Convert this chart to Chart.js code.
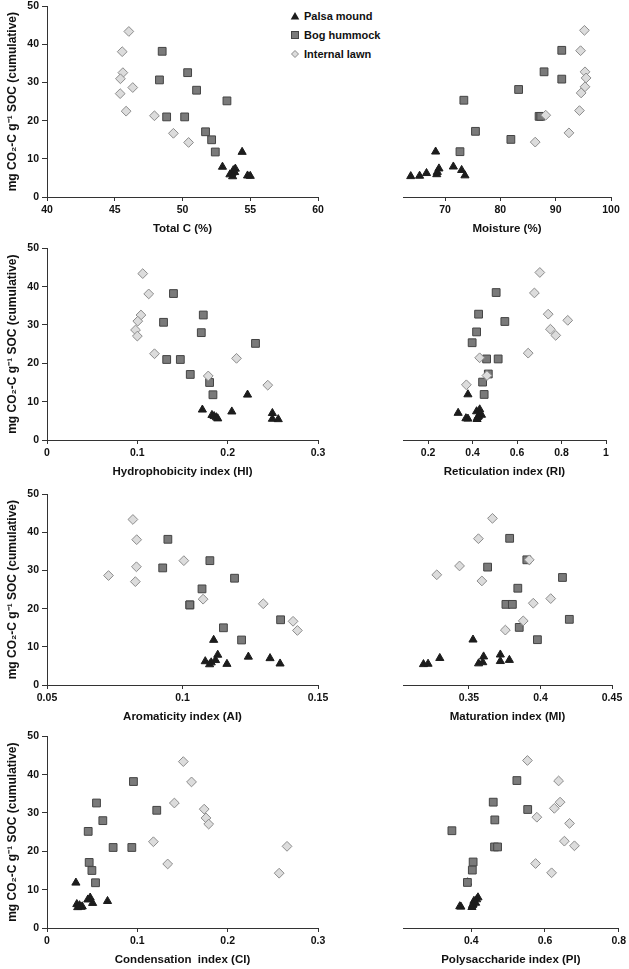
<!DOCTYPE html>
<html lang="en">
<head>
<meta charset="UTF-8">
<title>Cumulative CO2 vs soil properties</title>
<script src="https://cdn.jsdelivr.net/npm/chart.js"></script>
<style>
    body { margin: 0; background: #fff; font-family: 'Liberation Sans', Arial, sans-serif; }
    #wrap { position: relative; width: 629px; height: 969px; overflow: hidden; }
    #wrap canvas { position: absolute; }
    .leg { position: absolute; left: 290px; height: 14px; line-height: 14px; font-size: 11px; font-weight: bold; color: #111; white-space: nowrap; }
    .leg svg { position: absolute; left: 0; top: 2px; }
    .leg span { position: absolute; left: 14px; }
</style>
</head>
<body>
<div id="wrap">
    <div class="leg" style="top:9px"><svg width="10" height="10"><polygon points="5,1 9.3,8.6 0.7,8.6" fill="#1c1c1c"/></svg><span>Palsa mound</span></div>
    <div class="leg" style="top:28px"><svg width="10" height="10"><rect x="1.5" y="1.5" width="7" height="7" fill="#7a7a7a" stroke="#444"/></svg><span>Bog hummock</span></div>
    <div class="leg" style="top:47px"><svg width="10" height="10"><polygon points="5,1.5 8.5,5 5,8.5 1.5,5" fill="#dcdcdc" stroke="#8c8c8c"/></svg><span>Internal lawn</span></div>
</div>

<script>
// cumulative CO2 (mg CO2-C g-1 SOC), same samples in every panel
const palsaCO2 = [11.8, 7.9, 7.4, 7.0, 6.5, 6.2, 5.9, 5.6, 5.5, 5.4];
const bogCO2   = [38.2, 32.6, 30.7, 28.0, 25.2, 21.0, 21.0, 17.1, 15.0, 11.8];
const lawnCO2  = [43.4, 38.1, 32.6, 31.0, 28.7, 27.1, 22.5, 21.3, 16.7, 14.3];

const seriesNames = ['Palsa mound', 'Bog hummock', 'Internal lawn'];

// x values per panel, in the same order as the CO2 arrays
const totalCPalsa = [54.4, 52.95, 53.9, 53.75, 53.85, 53.65, 53.5, 54.8, 55.0, 53.7];
const totalCBog   = [48.5, 50.38, 48.3, 51.04, 53.28, 48.83, 50.16, 51.7, 52.15, 52.42];
const totalCLawn  = [46.04, 45.55, 45.6, 45.42, 46.33, 45.4, 45.84, 47.93, 49.33, 50.45];

const moisturePalsa = [68.3, 71.5, 68.9, 73.0, 68.6, 66.65, 68.5, 73.6, 65.4, 63.8];
const moistureBog   = [91.1, 87.9, 91.1, 83.3, 73.4, 87.0, 87.3, 75.5, 81.9, 72.7];
const moistureLawn  = [95.2, 94.5, 95.3, 95.5, 95.3, 94.6, 94.3, 88.2, 92.4, 86.3];

const hiPalsa = [0.222, 0.172, 0.2046, 0.2495, 0.1826, 0.185, 0.1875, 0.189, 0.2495, 0.256];
const hiBog   = [0.140, 0.173, 0.129, 0.1708, 0.2308, 0.1325, 0.1476, 0.1586, 0.180, 0.1837];
const hiLawn  = [0.106, 0.1126, 0.104, 0.1005, 0.098, 0.100, 0.119, 0.2098, 0.1785, 0.2444];

const riPalsa = [0.379, 0.432, 0.418, 0.335, 0.44, 0.427, 0.423, 0.37, 0.379, 0.42];
const riBog   = [0.506, 0.427, 0.545, 0.418, 0.398, 0.463, 0.515, 0.4707, 0.445, 0.452];
const riLawn  = [0.7024, 0.678, 0.740, 0.828, 0.75, 0.774, 0.65, 0.4317, 0.4646, 0.372];

const aiPalsa = [0.1115, 0.113, 0.1243, 0.1323, 0.1122, 0.1084, 0.1106, 0.136, 0.1164, 0.110];
const aiBog   = [0.0946, 0.1101, 0.0927, 0.1192, 0.1072, 0.1027, 0.1027, 0.1362, 0.1151, 0.1218];
const aiLawn  = [0.0817, 0.0831, 0.1005, 0.083, 0.0727, 0.0826, 0.1076, 0.1298, 0.1408, 0.1424];

const miPalsa = [0.3529, 0.372, 0.3603, 0.3297, 0.3783, 0.372, 0.3597, 0.3568, 0.3215, 0.3183];
const miBog   = [0.3785, 0.3905, 0.3631, 0.4154, 0.3842, 0.3759, 0.3804, 0.4202, 0.3852, 0.3979];
const miLawn  = [0.3665, 0.3567, 0.3922, 0.3435, 0.3276, 0.3591, 0.4072, 0.395, 0.388, 0.3755];

const ciPalsa = [0.032, 0.0478, 0.0452, 0.067, 0.0505, 0.033, 0.036, 0.039, 0.0375, 0.034];
const ciBog   = [0.0957, 0.0548, 0.1215, 0.0618, 0.0456, 0.0732, 0.0939, 0.0467, 0.0497, 0.0537];
const ciLawn  = [0.1509, 0.160, 0.141, 0.174, 0.176, 0.179, 0.1178, 0.2657, 0.1336, 0.257];

const piPalsa = [0.39, 0.4184, 0.4147, 0.4074, 0.412, 0.405, 0.4037, 0.369, 0.372, 0.402];
const piBog   = [0.5238, 0.4597, 0.5532, 0.464, 0.3476, 0.4633, 0.4715, 0.4052, 0.403, 0.3897];
const piLawn  = [0.5525, 0.637, 0.641, 0.6254, 0.578, 0.6667, 0.6527, 0.68, 0.5746, 0.618];

// tick labels
const co2Ticks      = [0, 10, 20, 30, 40, 50];
const totalCTicks   = [40, 45, 50, 55, 60];
const moistureTicks = [70, 80, 90, 100];
const hiTicks       = [0, 0.1, 0.2, 0.3];
const riTicks       = [0.2, 0.4, 0.6, 0.8, 1];
const aiTicks       = [0.05, 0.1, 0.15];
const miTicks       = [0.35, 0.4, 0.45];
const ciTicks       = [0, 0.1, 0.2, 0.3];
const piTicks       = [0.4, 0.6, 0.8];

const co2 = [palsaCO2, bogCO2, lawnCO2];
const fontFam = "'Liberation Sans', Arial, sans-serif";
const axisColor = '#333';

// plot box rows (top = 50, bottom = 0)
const rows = [
    { top: 5,   bottom: 197 },
    { top: 247, bottom: 440 },
    { top: 493, bottom: 685 },
    { top: 735, bottom: 928 }
];

const panels = [
    { title: 'Total C (%)', xs: [totalCPalsa, totalCBog, totalCLawn], ticks: totalCTicks, min: 40, max: 60, row: 0, col: 0, right: 318 },
    { title: 'Moisture (%)', xs: [moisturePalsa, moistureBog, moistureLawn], ticks: moistureTicks, min: 62.4, max: 100, row: 0, col: 1, right: 611 },
    { title: 'Hydrophobicity index (HI)', xs: [hiPalsa, hiBog, hiLawn], ticks: hiTicks, min: 0, max: 0.3, row: 1, col: 0, right: 318 },
    { title: 'Reticulation index (RI)', xs: [riPalsa, riBog, riLawn], ticks: riTicks, min: 0.087, max: 1, row: 1, col: 1, right: 606 },
    { title: 'Aromaticity index (AI)', xs: [aiPalsa, aiBog, aiLawn], ticks: aiTicks, min: 0.05, max: 0.15, row: 2, col: 0, right: 318 },
    { title: 'Maturation index (MI)', xs: [miPalsa, miBog, miLawn], ticks: miTicks, min: 0.304, max: 0.45, row: 2, col: 1, right: 612 },
    { title: 'Condensation  index (CI)', xs: [ciPalsa, ciBog, ciLawn], ticks: ciTicks, min: 0, max: 0.3, row: 3, col: 0, right: 318 },
    { title: 'Polysaccharide index (PI)', xs: [piPalsa, piBog, piLawn], ticks: piTicks, min: 0.215, max: 0.8, row: 3, col: 1, right: 621 }
];

const markers = [
    { pointStyle: 'triangle', pointRadius: 4.7, backgroundColor: '#1c1c1c', borderColor: '#1c1c1c', borderWidth: 1 },
    { pointStyle: 'rect', pointRadius: 5.5, backgroundColor: '#7a7a7a', borderColor: '#444', borderWidth: 1 },
    { pointStyle: 'rectRot', pointRadius: 4.9, backgroundColor: '#dcdcdc', borderColor: '#8c8c8c', borderWidth: 1 }
];

const fmt = v => String(parseFloat(Number(v).toFixed(3)));
const axisH = 39;

function makePanel(p) {
    const r = rows[p.row];
    const left = p.col === 0 ? 0 : 356;
    const width = p.col === 0 ? 335 : 629 - 356;
    const top = r.top - 8;
    const height = r.bottom + axisH - top;

    const canvas = document.createElement('canvas');
    canvas.width = width;
    canvas.height = height;
    canvas.style.left = left + 'px';
    canvas.style.top = top + 'px';
    document.getElementById('wrap').appendChild(canvas);

    const datasets = seriesNames.map((name, i) => Object.assign({
        label: name,
        data: p.xs[i].map((x, j) => ({ x: x, y: co2[i][j] })),
        order: 3 - i,
        clip: false
    }, markers[i]));

    new Chart(canvas, {
        type: 'scatter',
        data: { datasets: datasets },
        options: {
            responsive: false,
            animation: false,
            devicePixelRatio: 1,
            layout: { padding: { left: 0, right: left + width - p.right, top: 8, bottom: 0 } },
            plugins: { legend: { display: false }, tooltip: { enabled: false } },
            scales: {
                x: {
                    type: 'linear',
                    min: p.min,
                    max: p.max,
                    afterBuildTicks: s => { s.ticks = p.ticks.map(v => ({ value: v })); },
                    afterFit: s => { s.height = axisH; },
                    grid: { drawOnChartArea: false, drawTicks: true, tickLength: 4, color: axisColor },
                    border: { display: true, color: axisColor, width: 1 },
                    ticks: { autoSkip: false, maxRotation: 0, padding: 3, color: '#111',
                             font: { family: fontFam, size: 10.5, weight: 'bold' }, callback: v => fmt(v) },
                    title: { display: true, text: p.title, color: '#111', padding: 0,
                             font: { family: fontFam, size: 11.5, weight: 'bold' } }
                },
                y: {
                    display: p.col === 0,
                    min: 0,
                    max: 50,
                    afterBuildTicks: s => { s.ticks = co2Ticks.map(v => ({ value: v })); },
                    afterFit: s => { s.width = 47; },
                    grid: { drawOnChartArea: false, drawTicks: true, tickLength: 5, color: axisColor },
                    border: { display: true, color: axisColor, width: 1 },
                    ticks: { padding: 3, color: '#111', font: { family: fontFam, size: 10.5, weight: 'bold' } },
                    title: { display: true, text: 'mg CO\u2082-C g\u207B\u00B9 SOC (cumulative)', color: '#111',
                             padding: { top: 5, bottom: 0 }, font: { family: fontFam, size: 12, weight: 'bold' } }
                }
            }
        }
    });
}

panels.forEach(makePanel);
</script>
</body>
</html>
